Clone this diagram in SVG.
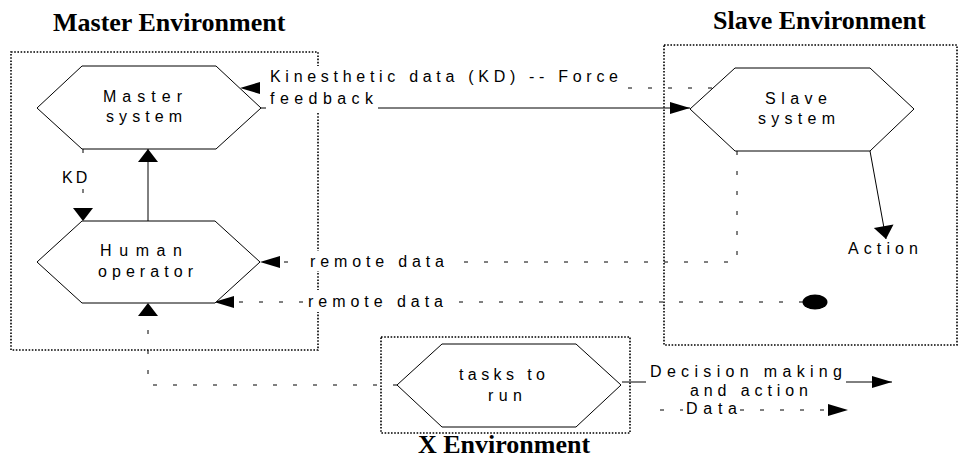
<svg xmlns="http://www.w3.org/2000/svg" width="961" height="456" viewBox="0 0 961 456">
<style>
.box{fill:none;stroke:#000;stroke-width:1.6;stroke-dasharray:1.6 1.6}
.hex{fill:#fff;stroke:#000;stroke-width:1}
.lbl{font-family:"Liberation Sans",Arial,sans-serif;font-size:16px;fill:#000}
.title{font-family:"Liberation Serif","Times New Roman",serif;font-size:26px;font-weight:bold;fill:#000}
.solid{fill:none;stroke:#000;stroke-width:1}
.dash{fill:none;stroke:#000;stroke-width:1;stroke-dasharray:4 16}
.bg{fill:#fff}
</style>
<defs>
<marker id="ah" markerUnits="userSpaceOnUse" markerWidth="20" markerHeight="12" refX="20" refY="6" orient="auto" overflow="visible"><path d="M0,0 L20,6 L0,12 Z" fill="#000"/></marker>
<marker id="av" markerUnits="userSpaceOnUse" markerWidth="13" markerHeight="20" refX="13" refY="10" orient="auto" overflow="visible"><path d="M0,0 L13,10 L0,20 Z" fill="#000"/></marker>
</defs>
<rect width="961" height="456" fill="#fff"/>

<g id="master-environment">
<rect class="box" x="11" y="52" width="307" height="298"/>
<text class="title" x="53" y="30.5">Master Environment</text>
</g>
<g id="slave-environment">
<rect class="box" x="664" y="45" width="293" height="300"/>
<text class="title" x="713" y="28.5">Slave Environment</text>
</g>
<g id="x-environment">
<rect class="box" x="381" y="337" width="249" height="96"/>
<text class="title" x="418" y="453">X Environment</text>
</g>

<g id="connectors">
<path class="solid" d="M261,108 H690" marker-end="url(#ah)"/>
<path class="dash" d="M712,88 H240" marker-end="url(#ah)"/>
<path class="dash" d="M83,149 V221" marker-end="url(#av)"/>
<path class="solid" d="M148,221 V149" marker-end="url(#av)"/>
<path class="dash" d="M737,151 V262 H260" marker-end="url(#ah)"/>
<path class="dash" d="M803,302 H214" marker-end="url(#ah)"/>
<ellipse cx="815" cy="302" rx="12.5" ry="7.5" fill="#000"/>
<path class="dash" d="M397,385 H148 V303" marker-end="url(#av)"/>
<path class="solid" d="M870,151 L886,239" marker-end="url(#av)"/>
<path class="solid" d="M622,382 H892" marker-end="url(#ah)"/>
<path class="dash" d="M660,410 H848" marker-end="url(#ah)"/>

<rect class="bg" x="266" y="66" width="358" height="26"/>
<rect class="bg" x="266" y="92" width="112" height="20"/>
<text class="lbl" x="270" y="81.5" textLength="348" lengthAdjust="spacing">Kinesthetic data (KD) -- Force</text>
<text class="lbl" x="270" y="103.5" textLength="103" lengthAdjust="spacing">feedback</text>
<rect class="bg" x="60" y="167" width="28" height="20"/>
<text class="lbl" x="62" y="182.5" letter-spacing="3">KD</text>
<rect class="bg" x="304" y="251" width="146" height="20"/>
<text class="lbl" x="310" y="266.5" textLength="134" lengthAdjust="spacing">remote data</text>
<rect class="bg" x="303" y="290" width="148" height="22"/>
<text class="lbl" x="308" y="307" textLength="135" lengthAdjust="spacing">remote data</text>
<text class="lbl" x="848" y="254" textLength="70" lengthAdjust="spacing">Action</text>
<rect class="bg" x="646" y="364" width="200" height="22"/>
<text class="lbl" x="650" y="377" textLength="192" lengthAdjust="spacing">Decision making</text>
<text class="lbl" x="690" y="396" textLength="118" lengthAdjust="spacing">and action</text>
<rect class="bg" x="683" y="400" width="57" height="17"/>
<text class="lbl" x="686" y="414" textLength="51" lengthAdjust="spacing">Data</text>
</g>

<g id="master-system">
<polygon class="hex" points="37,108 82,66 216,66 261,108 216,149 82,149"/>
<text class="lbl" x="103" y="102" textLength="79" lengthAdjust="spacing">Master</text>
<text class="lbl" x="106" y="122" textLength="76" lengthAdjust="spacing">system</text>
</g>
<g id="slave-system">
<polygon class="hex" points="690,109 735,68 870,68 914,109 870,151 735,151"/>
<text class="lbl" x="765" y="104" textLength="62" lengthAdjust="spacing">Slave</text>
<text class="lbl" x="758" y="124" textLength="77" lengthAdjust="spacing">system</text>
</g>
<g id="human-operator">
<polygon class="hex" points="37,262 82,221 215,221 260,262 215,303 82,303"/>
<text class="lbl" x="100" y="256" textLength="82" lengthAdjust="spacing">Human</text>
<text class="lbl" x="98" y="276.5" textLength="95" lengthAdjust="spacing">operator</text>
</g>
<g id="tasks-to-run">
<polygon class="hex" points="397,385 442,344 576,344 621,385 576,427 442,427"/>
<text class="lbl" x="459" y="380" textLength="86" lengthAdjust="spacing">tasks to</text>
<text class="lbl" x="488" y="400.5" textLength="34" lengthAdjust="spacing">run</text>
</g>
</svg>
